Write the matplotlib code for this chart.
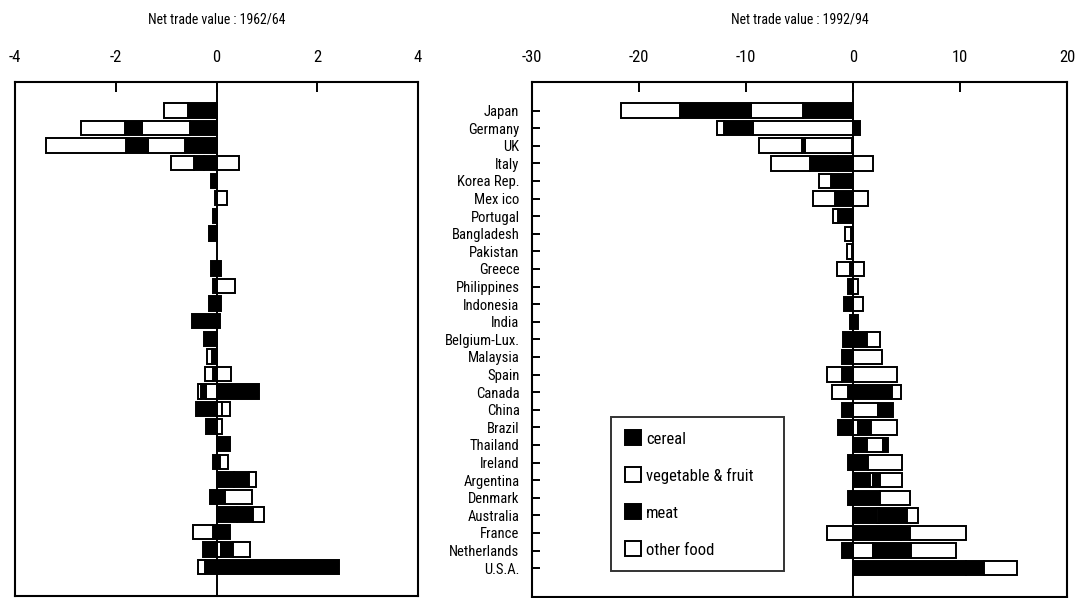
import matplotlib
matplotlib.use("Agg")
import matplotlib.pyplot as plt
from matplotlib import font_manager
from matplotlib.patches import Patch
import numpy as np

# the scan uses a condensed Helvetica; take a narrow face if one is installed
pick = None
for want in ["Liberation Sans Narrow", "Arial Narrow", "Roboto Condensed",
             "Noto Sans Condensed", "Open Sans Condensed", "DejaVu Sans"]:
    for f in font_manager.fontManager.ttflist:
        narrow = ("Narrow" in f.fname or "Condensed" in f.fname
                  or str(f.stretch) in ("condensed", "semi-condensed"))
        if f.name == want and narrow and f.style == "normal" and f.weight in (400, "normal", "regular"):
            pick = f
            break
    if pick:
        break
if pick:
    plt.rcParams['font.family'] = [pick.name, 'Liberation Sans', 'DejaVu Sans']
    plt.rcParams['font.stretch'] = pick.stretch
else:
    plt.rcParams['font.family'] = ['Liberation Sans', 'DejaVu Sans']

countries = ["Japan", "Germany", "UK", "Italy", "Korea Rep.", "Mex ico", "Portugal",
             "Bangladesh", "Pakistan", "Greece", "Philippines", "Indonesia", "India",
             "Belgium-Lux.", "Malaysia", "Spain", "Canada", "China", "Brazil", "Thailand",
             "Ireland", "Argentina", "Denmark", "Australia", "France", "Netherlands", "U.S.A."]

# net trade value 1962/64
cereal_62 = [-0.57, -0.52, -0.62, -0.25, -0.10, -0.03, -0.07, -0.15, 0.0, -0.10, -0.06, -0.15, -0.48,
             -0.24, -0.08, -0.07, 0.85, -0.40, -0.20, 0.26, -0.07, 0.35, -0.12, 0.40, 0.26, -0.26, 2.43]
veg_62 = [0, -0.96, -0.74, 0.44, 0, 0.20, 0, 0, 0, 0, 0, 0, 0,
          0, 0, 0.28, -0.20, 0.10, 0, 0, 0, 0, 0, 0, 0, 0.08, 0]
meat_62 = [0, -0.33, -0.43, -0.20, 0, 0, 0, 0, 0, 0.09, 0, 0.08, 0.06,
           0, 0, 0, -0.10, 0.01, 0, 0, 0.06, 0.30, 0.16, 0.32, -0.07, 0.25, -0.22]
other_62 = [-0.48, -0.88, -1.59, -0.45, 0, 0, 0, 0, 0, 0, 0.36, 0, 0,
            0, -0.11, -0.15, -0.06, 0.16, 0.10, 0, 0.16, 0.14, 0.54, 0.23, -0.40, 0.34, -0.14]

# net trade value 1992/94
cereal_92 = [-4.7, 0.65, -0.1, -1.4, -2.1, -1.7, -1.4, -0.15, -0.1, -0.3, -0.5, -0.85, 0.5,
             -0.9, -1.0, -1.05, 3.6, -1.0, -1.4, 1.3, -0.5, 1.6, -0.45, 2.2, 4.5, -1.05, 10.6]
veg_92 = [-4.8, -9.3, -4.4, 1.85, 0, 1.4, 0, -0.6, 0, 1.0, 0.5, 0, 0,
          0, 0, 4.1, 0.85, 2.3, 0.5, 1.5, 0, 0.3, 0, 0.2, -2.4, 1.85, 0]
meat_92 = [-6.7, -2.8, -0.3, -2.6, 0, 0, 0, 0, 0, 0, 0, 0, -0.3,
           1.3, 0, 0, -0.45, 1.4, 1.2, 0.5, 1.4, 0.6, 2.5, 2.6, 0.8, 3.55, 1.6]
other_92 = [-5.5, -0.6, -4.0, -3.7, -1.1, -2.0, -0.5, 0, -0.5, -1.2, 0, 0.9, 0,
            1.2, 2.7, -1.35, -1.55, 0, 2.4, 0, 3.2, 2.1, 2.8, 1.1, 5.3, 4.2, 3.1]

labels = ["cereal", "vegetable & fruit", "meat", "other food"]
fills = ["black", "white", "black", "white"]


def stacked(ax, series):
    y = np.arange(len(countries))
    pos = np.zeros(len(countries))
    neg = np.zeros(len(countries))
    for vals, fc in zip(series, fills):
        v = np.array(vals, dtype=float)
        left = np.where(v > 0, pos, neg)
        m = v != 0
        ax.barh(y[m], v[m], left=left[m], height=0.82, color=fc,
                edgecolor="black", linewidth=1.4, zorder=3)
        pos += np.where(v > 0, v, 0)
        neg += np.where(v < 0, v, 0)
    ax.axvline(0, color="black", lw=1.4, zorder=4)
    ax.set_ylim(27.64, -1.62)
    for s in ax.spines.values():
        s.set_linewidth(1.5)
    ax.xaxis.tick_top()
    ax.tick_params(axis="x", direction="in", length=7, width=1.4, pad=12, labelsize=12)


fig = plt.figure(figsize=(10.83, 5.98), dpi=100)
ax1 = fig.add_axes([15 / 1083, 2 / 598, 403 / 1083, 514 / 598])
ax2 = fig.add_axes([532 / 1083, 1 / 598, 535 / 1083, 515 / 598])

stacked(ax1, [cereal_62, veg_62, meat_62, other_62])
ax1.set_xlim(-4, 4)
ax1.set_xticks([-4, -2, 0, 2, 4])
ax1.set_xticklabels(["-4", "-2", "0", "2", "4"])
ax1.set_yticks([])

stacked(ax2, [cereal_92, veg_92, meat_92, other_92])
ax2.set_xlim(-30, 20)
ax2.set_xticks([-30, -20, -10, 0, 10, 20])
ax2.set_xticklabels(["-30", "-20", "-10", "0", "10", "20"])
ax2.set_yticks(np.arange(len(countries)))
ax2.set_yticklabels(countries)
ax2.tick_params(axis="y", direction="in", length=6, width=1.4, pad=9, labelsize=10.5)

fig.text((15 + 418) / 2 / 1083, 1 - 20 / 598, "Net trade value : 1962/64",
         ha="center", va="center", fontsize=10)
fig.text((532 + 1067) / 2 / 1083, 1 - 20 / 598, "Net trade value : 1992/94",
         ha="center", va="center", fontsize=10)

handles = [Patch(facecolor=fc, edgecolor="black", linewidth=1.4) for fc in fills]
leg = ax2.legend(handles, labels, loc="upper left", mode="expand",
                 bbox_to_anchor=(0.148, 0.0485, 0.323, 0.301),
                 fontsize=12, frameon=True, fancybox=False, edgecolor="black",
                 handlelength=1.0, handleheight=1.0, handletextpad=0.3,
                 labelspacing=1.25, borderpad=0.8, borderaxespad=0)
leg.get_frame().set_linewidth(1.4)
leg.set_zorder(5)

fig.savefig("out.png", dpi=100)
